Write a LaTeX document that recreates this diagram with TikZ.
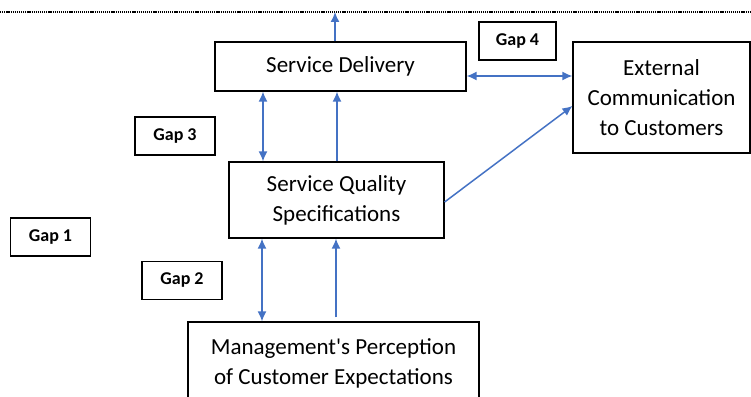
\documentclass[tikz,border=0pt]{standalone}
\usepackage{fontspec}
\setmainfont{Carlito}
\usepackage{xcolor}
\usetikzlibrary{shapes, positioning, arrows.meta}
\definecolor{linkblue}{HTML}{4472C4}
\tikzset{
	% main boxes
	bigbox/.style={
		draw,
		line width=1.2pt,
		align=center,
		inner sep=0pt,
		font=\fontsize{23}{30}\selectfont
	}, %
	% gap labels
	gapbox/.style={
		draw,
		line width=1.2pt,
		inner sep=0pt,
		minimum width=80pt,
		minimum height=38pt,
		font=\fontsize{18}{20}\selectfont\bfseries
	}, %
	% connectors
	link/.style={
		linkblue,
		line width=1.5pt,
		>={Latex[length=10pt, width=9pt]}
	} %
}

\begin{document}
\begin{tikzpicture}[x=1pt, y=-1pt]
			\useasboundingbox (0,0) rectangle (751,396);
			
			% linha pontilhada
			\coordinate (lineL) at (0,12);
			\coordinate (lineR) at (751,12);
			\draw[line width=1.6pt, dash pattern=on 1.2pt off 0.9pt] (lineL)--(lineR);
			
			% caixas
			\node[bigbox, minimum width=251pt, minimum height=49pt] (delivery) at (340.5,66.5) {Service Delivery};
			\node[bigbox, minimum width=177pt, minimum height=111pt] (extcomm) at (661.5,97.5) {External\\Communication\\to Customers};
			\node[bigbox, minimum width=215pt, minimum height=76pt] (specs) at (336.5,200) {Service Quality\\Specifications};
			\node[bigbox, minimum width=291pt, minimum height=82pt] (perception) at (333.5,363) {Management\textquotesingle s Perception\\of Customer Expectations};
			
			% gaps
			\node[gapbox] (gap1) at (50.5,237) {Gap 1};
			\node[gapbox] (gap2) at (182,280.5) {Gap 2};
			\node[gapbox] (gap3) at (175,136) {Gap 3};
			\node[gapbox, minimum width=77pt] (gap4) at (517.5,41) {Gap 4};
			
			% delivery -> linha
			\coordinate (up) at ([xshift=-5.5pt]delivery.north);
			\draw[->, link] (up)--(up |- lineL);
			
			% specs <-> delivery
			\coordinate (sdL) at ([xshift=-77.5pt]delivery.south);
			\draw[<->, link] (sdL)--(sdL |- specs.north);
			\coordinate (sdR) at ([xshift=0.5pt]specs.north);
			\draw[->, link] (sdR)--(sdR |- delivery.south);
			
			% perception <-> specs
			\coordinate (pL) at ([xshift=-74.5pt]specs.south);
			\draw[<->, link] (pL)--(pL |- perception.north);
			\coordinate (pR) at ([xshift=2.5pt, yshift=4pt]perception.north);
			\draw[->, link] (pR)--(pR |- specs.south);
			
			% delivery <-> extcomm
			\coordinate (dE) at ([yshift=-9.5pt]delivery.east);
			\draw[<->, link] (dE)--(dE -| extcomm.west);
			
			% specs -> extcomm
			\draw[->, link] ([yshift=-2pt]specs.east)--([yshift=-8.5pt]extcomm.west);
		\end{tikzpicture}
\end{document}
